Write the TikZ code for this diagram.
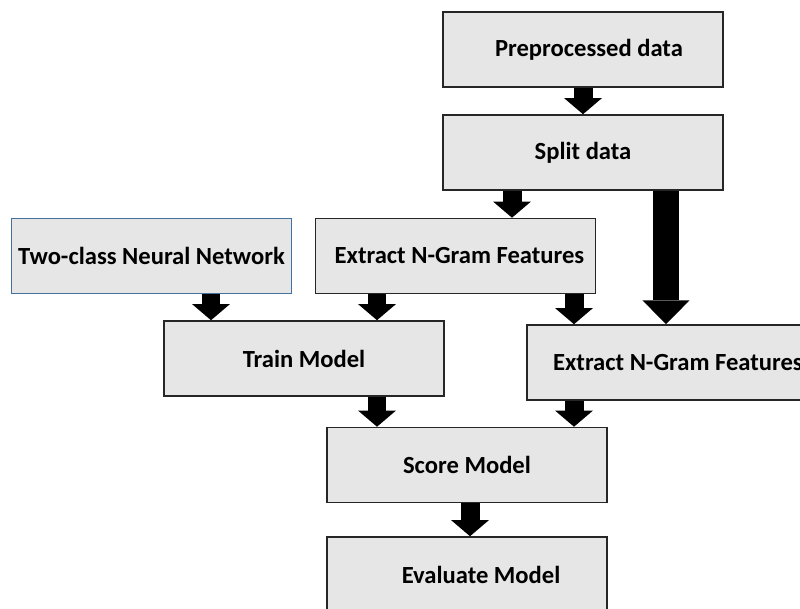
\documentclass[tikz,border=0pt]{standalone}
\usepackage{fontspec}
\setmainfont{Carlito}
\usetikzlibrary{arrows.meta}
\definecolor{boxfill}{RGB}{231,230,230}
\definecolor{boxline}{RGB}{38,38,38}
\definecolor{netline}{RGB}{65,113,156}

\begin{document}
\begin{tikzpicture}[x=0.025cm,y=-0.025cm,
  stepbox/.style={draw=boxline,fill=boxfill,line width=1.1pt,minimum width=7cm,minimum height=1.875cm,inner sep=0pt,font=\fontsize{17.5}{21}\selectfont\bfseries},
  blk/.style={line width=13.5pt,-{Triangle[width=27pt,length=11.5pt,line width=0pt]}},
  bigblk/.style={line width=17.8pt,-{Triangle[width=33.5pt,length=17pt,line width=0pt]}}]
\useasboundingbox (0,0) rectangle (800,608);

\node[stepbox] (pre) at (583,49.5) {\hspace{8.5pt}Preprocessed data};
\node[stepbox] (split) at (583,152.5) {Split data};
\node[stepbox,draw=netline] (two) at (151.5,256) {Two-class Neural Network};
\node[stepbox] (ngl) at (455.5,256) {\hspace{5.7pt}Extract N-Gram Features};
\node[stepbox] (train) at (304,358.5) {Train Model\hspace{4pt}};
\node[stepbox] (ngr) at (667,362.5) {\hspace{15.6pt}Extract N-Gram Features};
\node[stepbox] (score) at (467,465) {Score Model};
\node[stepbox] (eval) at (467,574.5) {\hspace{20pt}Evaluate Model};

\draw[blk] (pre.south -| 583,0) -- (split.north -| 583,0);
\draw[blk] (split.south -| 512,0) -- (ngl.north -| 512,0);
\draw[bigblk] (split.south -| 666,0) -- (ngr.north -| 666,0);
\draw[blk] (two.south -| 211,0) -- (train.north -| 211,0);
\draw[blk] (ngl.south -| 377,0) -- (train.north -| 377,0);
\draw[blk] (ngl.south -| 574,0) -- (ngr.north -| 574,0);
\draw[blk] (train.south -| 377,0) -- (score.north -| 377,0);
\draw[blk] (ngr.south -| 574,0) -- (score.north -| 574,0);
\draw[blk] (score.south -| 470,0) -- (eval.north -| 470,0);
\end{tikzpicture}
\end{document}
